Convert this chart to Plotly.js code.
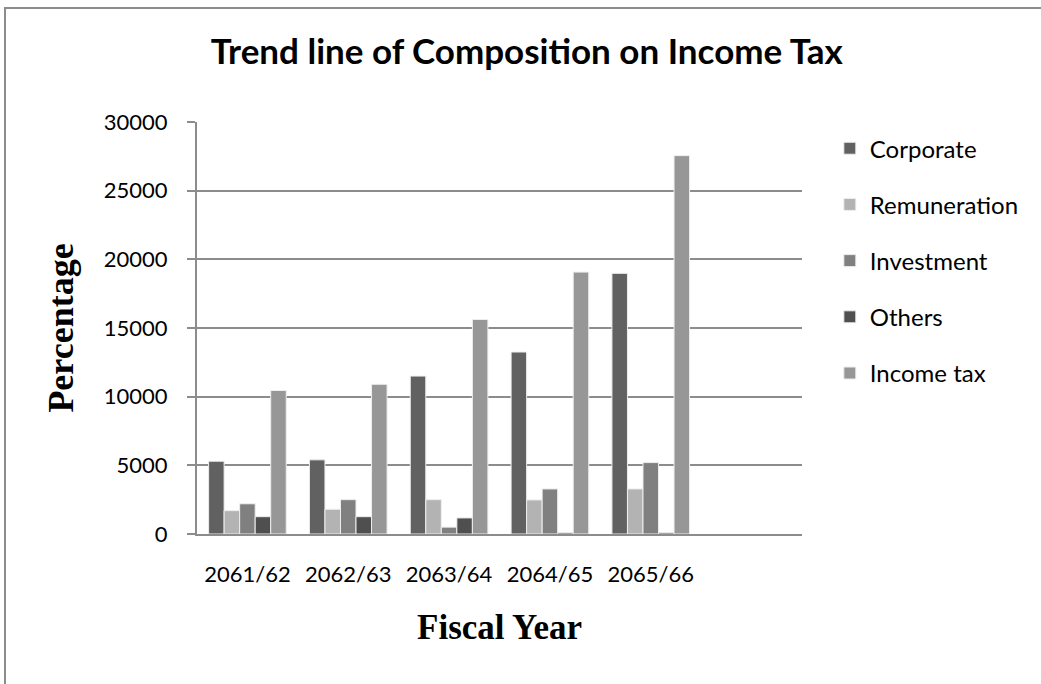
<!DOCTYPE html>
<html><head><meta charset="utf-8">
<script src="https://cdn.plot.ly/plotly-3.0.1.min.js"></script>
<style>
html,body{margin:0;padding:0;background:#fff;}
#wrap{position:relative;width:1041px;height:684px;}
#frame{position:absolute;left:4px;top:7px;width:1040px;height:680px;border-left:2px solid #8c8c8c;border-top:2px solid #8c8c8c;pointer-events:none;}
#chart{position:absolute;left:0;top:0;width:1041px;height:684px;}
</style></head>
<body>
<div id="wrap"><div id="chart"></div><div id="frame"></div></div>
<script>
const categories = ["2061/62","2062/63","2063/64","2064/65","2065/66"," "];
const corporate    = [5300, 5400, 11500, 13250, 18980];
const remuneration = [1700, 1800, 2500, 2480, 3280];
const investment   = [2200, 2500, 500, 3280, 5200];
const others       = [1260, 1260, 1170, 100, 100];
const incomeTax    = [10450, 10900, 15620, 19070, 27550];

const seriesNames = ["Corporate","Remuneration","Investment","Others","Income tax"];
const seriesData = [corporate, remuneration, investment, others, incomeTax];
const colors = ["#616161","#b3b3b3","#808080","#4f4f4f","#979797"];

const traces = seriesData.map((vals, i) => ({
  type: "bar",
  name: seriesNames[i],
  x: categories.slice(0, vals.length),
  y: vals,
  legendgroup: "g" + i,
  marker: {color: colors[i], line: {color: "#eeeeee", width: 1}},
  hoverinfo: "x+y+name"
}));

const FONT = "Lato, 'Open Sans', sans-serif";
const SERIF = "'Liberation Serif', 'DejaVu Serif', serif";

const layout = {
  width: 1041, height: 684,
  margin: {l: 197, r: 239, t: 122, b: 150},
  paper_bgcolor: "#ffffff", plot_bgcolor: "#ffffff",
  font: {family: FONT, color: "#000000", size: 22},
  title: {text: "<b>Trend line of Composition on Income Tax</b>", x: 0.506, xref: "container", xanchor: "center",
          y: 0.925, yref: "container", yanchor: "middle",
          font: {family: FONT, size: 35, color: "#000"}},
  barmode: "group",
  bargap: 0.23,
  bargroupgap: 0,
  xaxis: {
    type: "category",
    categoryorder: "array", categoryarray: categories,
    range: [-0.5, 5.5],
    showgrid: false, showline: true, linecolor: "#8c8c8c", linewidth: 2,
    ticks: "", ticklabelstandoff: 20,
    tickfont: {size: 22, family: FONT},
    title: {text: "<b>Fiscal Year</b>", standoff: 28, font: {family: SERIF, size: 35}},
    fixedrange: true
  },
  yaxis: {
    range: [0, 30000], dtick: 5000, tick0: 0, tickformat: "d",
    showgrid: true, gridcolor: "#8c8c8c", gridwidth: 2,
    showline: true, linecolor: "#8c8c8c", linewidth: 2,
    zeroline: false,
    ticks: "outside", ticklen: 8, tickcolor: "#8c8c8c", tickwidth: 2,
    ticklabelstandoff: 15,
    tickfont: {size: 22, family: FONT},
    title: {text: "<b>Percentage</b>", standoff: 19, font: {family: SERIF, size: 36}},
    fixedrange: true
  },
  legend: {
    x: 1.046, xanchor: "left", y: 0.99, yanchor: "top",
    font: {size: 24, family: FONT},
    tracegroupgap: 22, traceorder: "grouped",
    bgcolor: "rgba(0,0,0,0)"
  },
  showlegend: true
};

Plotly.newPlot("chart", traces, layout, {displayModeBar: false, staticPlot: true});
</script>
</body></html>
